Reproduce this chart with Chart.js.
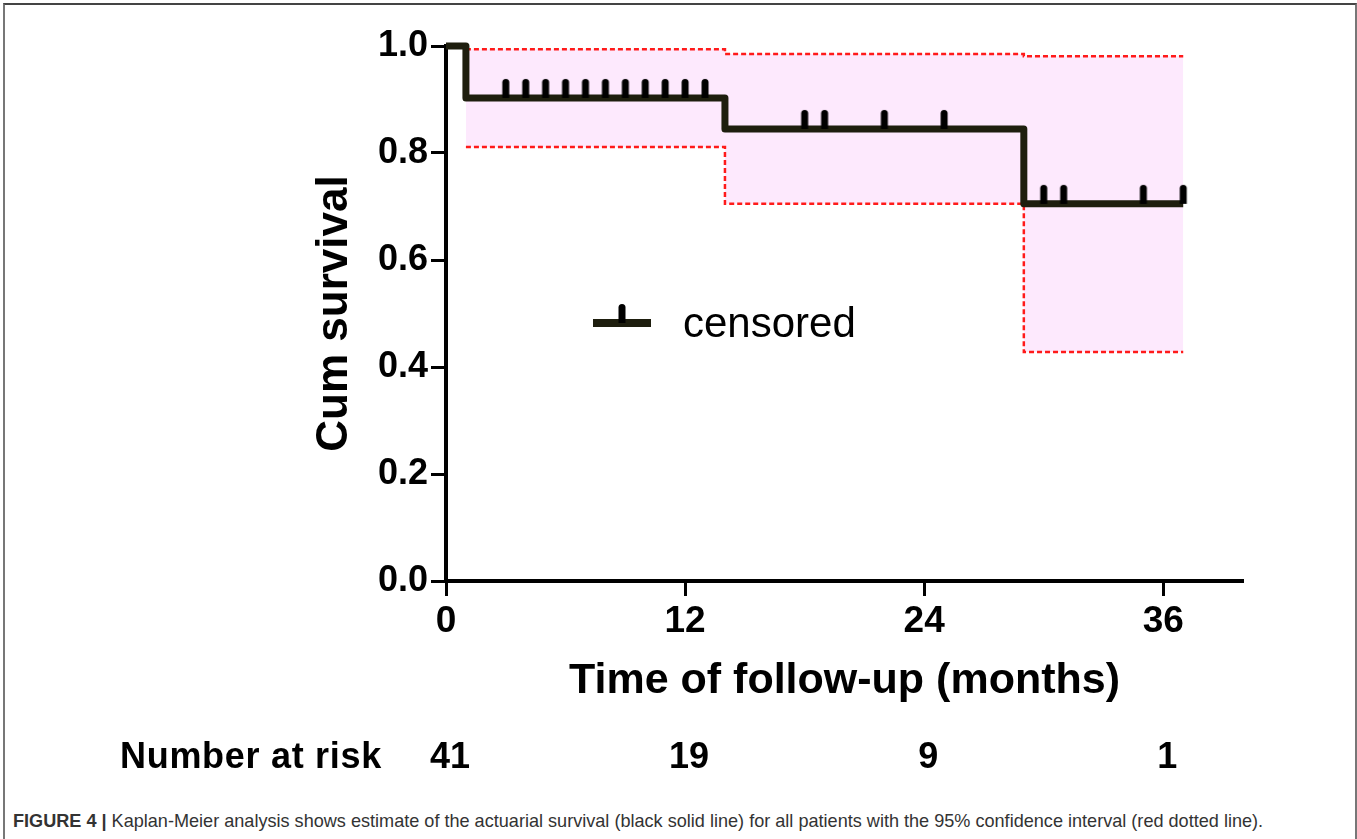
<!DOCTYPE html>
<html><head><meta charset="utf-8">
<script src="https://cdn.jsdelivr.net/npm/chart.js@4/dist/chart.umd.min.js"></script>
<style>
html,body{margin:0;padding:0;background:#fff;width:1357px;height:839px;overflow:hidden;}
#frame{position:absolute;left:3px;top:3px;width:1354px;height:900px;border-top:2px solid #444;border-left:2px solid #777;border-right:2px solid #777;box-sizing:border-box;}
#wrap{position:absolute;left:0;top:0;width:1357px;height:800px;}
#caption{position:absolute;left:13px;top:811px;font-family:"Liberation Sans",Arial,sans-serif;font-size:18.1px;color:#333;white-space:nowrap;}
</style></head>
<body>
<div id="frame"></div>
<div id="wrap"><canvas id="c"></canvas></div>
<div id="caption"><b>FIGURE 4 |</b> Kaplan-Meier analysis shows estimate of the actuarial survival (black solid line) for all patients with the 95% confidence interval (red dotted line).</div>
<script>
// ---- data ----
const kmMonths = [0, 1, 14, 29, 37];
const kmSurvival = [1.0, 0.903, 0.845, 0.705, 0.705];
const ciMonths = [1, 14, 29, 37];
const ciUpper = [0.994, 0.985, 0.981, 0.981];
const ciLower = [0.811, 0.705, 0.428, 0.428];
const censoredMonths = [3, 4, 5, 6, 7, 8, 9, 10, 11, 12, 13, 18, 19, 22, 25, 30, 31, 35, 37];
const censoredSurvival = [0.903, 0.903, 0.903, 0.903, 0.903, 0.903, 0.903, 0.903, 0.903, 0.903, 0.903,
                          0.845, 0.845, 0.845, 0.845, 0.705, 0.705, 0.705, 0.705];
const xTicks = [0, 12, 24, 36];
const yTicks = [0, 0.2, 0.4, 0.6, 0.8, 1.0];
const riskMonths = [0, 12, 24, 36];
const riskCounts = [41, 19, 9, 1];
const xTitle = 'Time of follow-up (months)';
const yTitle = 'Cum survival';
const riskLabel = 'Number at risk';
const legendLabel = 'censored';

const FONT = '"Liberation Sans", Arial, sans-serif';
const LINE = '#1e1e0e';

function makeCensorMark() {
  const c = document.createElement('canvas');
  c.width = 10; c.height = 50;
  const g = c.getContext('2d');
  g.fillStyle = '#000';
  g.beginPath();
  g.moveTo(1.5, 25);
  g.lineTo(1.5, 9.5);
  g.arc(5, 9.5, 3.5, Math.PI, 0);
  g.lineTo(8.5, 25);
  g.closePath();
  g.fill();
  return c;
}
const censorMark = makeCensorMark();

const pts = (xs, ys) => xs.map((x, i) => ({x: x, y: ys[i]}));

const annotate = {
  id: 'annotate',
  afterDraw(chart) {
    const ctx = chart.ctx;
    const xs = chart.scales.x;
    ctx.save();
    // legend
    ctx.strokeStyle = LINE;
    ctx.lineWidth = 8;
    ctx.beginPath();
    ctx.moveTo(593, 323); ctx.lineTo(651, 323);
    ctx.stroke();
    ctx.drawImage(censorMark, 622 - censorMark.width / 2, 323 - censorMark.height / 2);
    ctx.fillStyle = '#000';
    ctx.font = '42px ' + FONT;
    ctx.textBaseline = 'alphabetic';
    ctx.textAlign = 'left';
    ctx.fillText(legendLabel, 683, 337);
    // number at risk
    ctx.font = 'bold 36px ' + FONT;
    if ('letterSpacing' in ctx) ctx.letterSpacing = '0.7px';
    ctx.fillText(riskLabel, 120, 768);
    if ('letterSpacing' in ctx) ctx.letterSpacing = '0px';
    ctx.textAlign = 'center';
    riskMonths.forEach((m, i) => {
      ctx.fillText(String(riskCounts[i]), xs.getPixelForValue(m) + 4, 768);
    });
    ctx.restore();
  }
};

new Chart(document.getElementById('c'), {
  type: 'scatter',
  data: {
    datasets: [
      { label: 'censored', data: pts(censoredMonths, censoredSurvival), showLine: false,
        pointStyle: censorMark, pointRadius: 5, order: 0, clip: false },
      { label: 'survival', data: pts(kmMonths, kmSurvival), showLine: true, stepped: 'before',
        borderColor: LINE, borderWidth: 7, pointRadius: 0, order: 1, clip: false,
        borderCapStyle: 'butt', borderJoinStyle: 'round' },
      { label: 'upper', data: pts(ciMonths, ciUpper), showLine: true, stepped: 'before',
        borderColor: '#ff1a1a', borderWidth: 2.5, borderDash: [5, 3], pointRadius: 0,
        fill: '+1', backgroundColor: 'rgb(253,233,253)', order: 2, clip: false },
      { label: 'lower', data: pts(ciMonths, ciLower), showLine: true, stepped: 'before',
        borderColor: '#ff1a1a', borderWidth: 2.5, borderDash: [5, 3], pointRadius: 0,
        fill: false, order: 3, clip: false }
    ]
  },
  options: {
    responsive: true,
    maintainAspectRatio: false,
    animation: false,
    layout: { padding: { left: 0, top: 46, right: 114, bottom: 0 } },
    plugins: {
      legend: { display: false },
      tooltip: { enabled: false },
      filler: { drawTime: 'beforeDatasetsDraw' }
    },
    scales: {
      x: {
        type: 'linear', min: 0, max: 40,
        afterBuildTicks: s => { s.ticks = xTicks.map(v => ({ value: v })); },
        afterFit: s => { s.height = 219; },
        grid: { drawOnChartArea: false, drawTicks: true, tickLength: 15, tickWidth: 3, tickColor: '#000' },
        border: { display: true, color: '#000', width: 4 },
        ticks: { color: '#000', font: { family: FONT, size: 37, weight: 'bold' }, padding: 4, maxRotation: 0 },
        title: { display: true, text: xTitle, color: '#000',
                 font: { family: FONT, size: 43, weight: 'bold', lineHeight: 1 }, padding: { top: 0, bottom: 97 } }
      },
      y: {
        type: 'linear', min: 0, max: 1,
        afterBuildTicks: s => { s.ticks = yTicks.map(v => ({ value: v })); },
        afterFit: s => { s.width = 446; },
        grid: { drawOnChartArea: false, drawTicks: true, tickLength: 15, tickWidth: 3, tickColor: '#000' },
        border: { display: true, color: '#000', width: 4 },
        ticks: { color: '#000', font: { family: FONT, size: 36, weight: 'bold' }, padding: 3,
                 callback: v => Number(v).toFixed(1) },
        title: { display: true, text: yTitle, color: '#000',
                 font: { family: FONT, size: 44, weight: 'bold', lineHeight: 1 }, padding: { top: 313, bottom: 0 } }
      }
    }
  },
  plugins: [annotate]
});
</script>
</body></html>
